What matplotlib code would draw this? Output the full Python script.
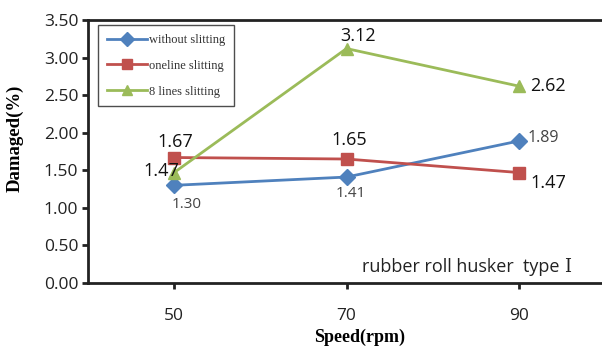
import matplotlib
matplotlib.use("Agg")
import matplotlib.pyplot as plt

speeds = ["50", "70", "90"]
without_slitting = [1.30, 1.41, 1.89]
oneline_slitting = [1.67, 1.65, 1.47]
eight_lines_slitting = [1.47, 3.12, 2.62]
yticks = [0.0, 0.5, 1.0, 1.5, 2.0, 2.5, 3.0, 3.5]

blue = "#4F81BD"
red = "#C0504D"
green = "#9BBB59"
sans = ["Open Sans", "DejaVu Sans"]
serif = "Liberation Serif"

fig = plt.figure(figsize=(6.02, 3.47), dpi=100)
ax = fig.add_axes([88 / 602, 1 - 283 / 347, (605 - 88) / 602, (283 - 20) / 347])

x = list(range(len(speeds)))
ax.plot(x, without_slitting, color=blue, lw=2, marker="D", ms=8, label="without slitting")
ax.plot(x, oneline_slitting, color=red, lw=2, marker="s", ms=8, label="oneline slitting")
ax.plot(x, eight_lines_slitting, color=green, lw=2, marker="^", ms=8, label="8 lines slitting")

ax.set_xlim(-0.5, 2.5)
ax.set_ylim(0, 3.5)
ax.set_xticks(x)
ax.set_xticklabels(speeds)
ax.set_yticks(yticks)
ax.set_yticklabels([f"{v:.2f}" for v in yticks])
for lab in ax.get_xticklabels() + ax.get_yticklabels():
    lab.set_family(sans)
    lab.set_fontsize(12.5)
    lab.set_color("#222222")
ax.tick_params(axis="both", direction="out", length=4, width=2, color="#222222")
ax.tick_params(axis="x", pad=14)
ax.tick_params(axis="y", pad=3)

for side in ["left", "bottom", "top"]:
    ax.spines[side].set_linewidth(2)
    ax.spines[side].set_color("#222222")
ax.spines["right"].set_visible(False)

ax.set_ylabel("Damaged(%)", family=serif, fontweight="bold", fontsize=13.5)
ax.yaxis.set_label_coords(-0.124, 0.55)
ax.set_xlabel("Speed(rpm)", family=serif, fontweight="bold", fontsize=13)
ax.xaxis.set_label_coords(0.526, -0.174)

# value labels
def lab(xi, yi, txt, dx, dy, size=13, color="#111111", ha="center"):
    ax.annotate(txt, (xi, yi), xytext=(dx, dy), textcoords="offset points",
                ha=ha, va="center", fontsize=size, color=color, family=sans)

lab(0, oneline_slitting[0], f"{oneline_slitting[0]:.2f}", 1, 11)
lab(0, eight_lines_slitting[0], f"{eight_lines_slitting[0]:.2f}", -9, 1)
lab(0, without_slitting[0], f"{without_slitting[0]:.2f}", 9, -13.5, size=11, color="#444444")
lab(1, oneline_slitting[1], f"{oneline_slitting[1]:.2f}", 2, 14)
lab(1, without_slitting[1], f"{without_slitting[1]:.2f}", 3, -12, size=11, color="#444444")
lab(1, eight_lines_slitting[1], f"{eight_lines_slitting[1]:.2f}", 8, 9)
lab(2, eight_lines_slitting[2], f"{eight_lines_slitting[2]:.2f}", 8, 0, ha="left")
lab(2, without_slitting[2], f"{without_slitting[2]:.2f}", 6, 2, size=11.5, color="#444444", ha="left")
lab(2, oneline_slitting[2], f"{oneline_slitting[2]:.2f}", 8, -7.5, ha="left")

ax.text(0.921, 0.061, "rubber roll husker  type ", transform=ax.transAxes,
        ha="right", va="center", fontsize=13, color="#222222", family=sans)
ax.text(0.921, 0.061, "Ⅰ", transform=ax.transAxes,
        ha="left", va="center", fontsize=13, color="#222222", family="DejaVu Serif")

leg = ax.legend(loc="upper left", bbox_to_anchor=(0.006, 1.006), frameon=True,
                fancybox=False, edgecolor="#222222",
                prop={"family": serif, "size": 9},
                handlelength=3.2, borderpad=0.7, labelspacing=1.1,
                handletextpad=0.2, borderaxespad=0.55, markerscale=0.85)
leg.get_frame().set_linewidth(1)
for t in leg.get_texts():
    t.set_color("#333333")

fig.savefig("out.png", dpi=100)
